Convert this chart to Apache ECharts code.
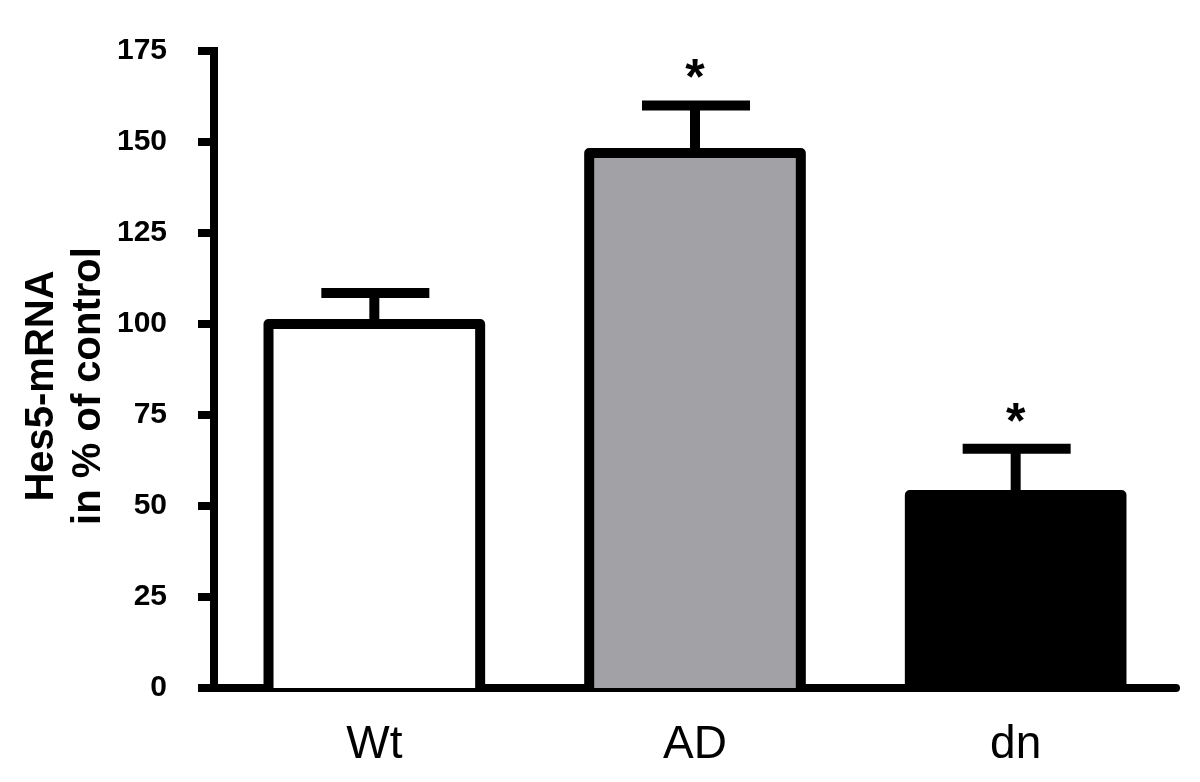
<!DOCTYPE html>
<html>
<head>
<meta charset="utf-8">
<script src="https://cdn.jsdelivr.net/npm/echarts@6/dist/echarts.min.js"></script>
<style>
  html, body { margin: 0; padding: 0; background: #fff; }
  #main { width: 1200px; height: 782px; }
</style>
</head>
<body>
<div id="main"></div>
<script>
const groups = ['Wt', 'AD', 'dn'];
const means = [100, 147, 53];
const sems = [8.5, 13, 12.7];
const stars = ['', '*', '*'];
const fills = ['#ffffff', '#a2a1a6', '#000000'];
const yTicks = [0, 25, 50, 75, 100, 125, 150, 175];

const chart = echarts.init(document.getElementById('main'));

// outline of the bar (open at the bottom, the x axis closes it) + error bar + star
function drawExtras(params, api) {
  const i = api.value(0);
  const m = api.value(1);
  const base = api.coord([i, 0]);
  const top = api.coord([i, m]);
  const err = api.coord([i, m + api.value(2)]);
  const half = api.size([1, 0])[0] * 0.33;
  return {
    type: 'group',
    children: [
      {
        type: 'polyline',
        shape: { points: [[top[0] - half, base[1]], [top[0] - half, top[1]], [top[0] + half, top[1]], [top[0] + half, base[1]]] },
        style: { stroke: '#000', lineWidth: 10, fill: null, lineJoin: 'round' }
      },
      {
        type: 'line',
        shape: { x1: top[0], y1: top[1], x2: err[0], y2: err[1] },
        style: { stroke: '#000', lineWidth: 10 }
      },
      {
        type: 'line',
        shape: { x1: err[0] - 53, y1: err[1], x2: err[0] + 55, y2: err[1] },
        style: { stroke: '#000', lineWidth: 10 }
      },
      {
        type: 'text',
        x: err[0],
        y: err[1] - 25,
        style: {
          text: stars[params.dataIndex],
          fill: '#000',
          font: 'bold 50px "Liberation Sans", Arial, sans-serif',
          align: 'center',
          verticalAlign: 'middle'
        }
      }
    ]
  };
}

const option = {
  animation: false,
  backgroundColor: '#fff',
  grid: { left: 214, right: 24, top: 51, bottom: 94 },
  xAxis: {
    type: 'category',
    data: groups,
    axisLine: { lineStyle: { color: '#000', width: 8 } },
    axisTick: { show: false },
    axisLabel: {
      margin: 34,
      color: '#000',
      fontSize: 46,
      fontFamily: '"Liberation Sans Narrow", "Liberation Sans", Arial, sans-serif'
    }
  },
  yAxis: {
    type: 'value',
    min: yTicks[0],
    max: yTicks[yTicks.length - 1],
    interval: 25,
    splitLine: { show: false },
    axisLine: { show: true, lineStyle: { color: '#000', width: 8, cap: 'square' } },
    axisTick: { show: true, length: 16, lineStyle: { color: '#000', width: 8 } },
    axisLabel: {
      margin: 47,
      color: '#000',
      fontSize: 30,
      fontWeight: 'bold',
      fontFamily: '"Liberation Sans", Arial, sans-serif'
    }
  },
  graphic: [{
    type: 'text',
    x: 65,
    y: 386,
    rotation: Math.PI / 2,
    style: {
      text: 'Hes5-mRNA\nin % of control',
      fill: '#000',
      font: 'bold 40px "Liberation Sans", Arial, sans-serif',
      lineHeight: 47,
      align: 'center',
      verticalAlign: 'middle'
    }
  }],
  series: [
    {
      type: 'bar',
      barWidth: '66%',
      data: means.map((v, i) => ({
        value: v,
        itemStyle: { color: fills[i] }
      })),
      itemStyle: { borderWidth: 0 }
    },
    {
      type: 'custom',
      data: means.map((v, i) => [i, v, sems[i]]),
      z: 3,
      renderItem: drawExtras
    }
  ]
};

chart.setOption(option);
</script>
</body>
</html>
